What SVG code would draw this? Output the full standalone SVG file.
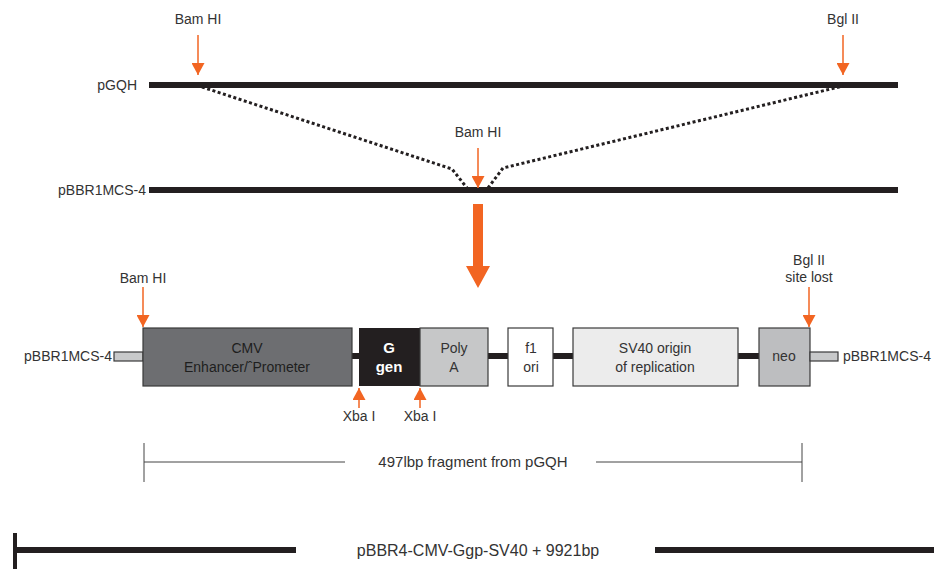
<svg xmlns="http://www.w3.org/2000/svg" width="934" height="569" viewBox="0 0 934 569">
<defs>
<style>
text{font-family:"Liberation Sans",Arial,sans-serif;fill:#333;font-size:14px}
.mid{text-anchor:middle}
.end{text-anchor:end}
.dna{stroke:#231f20;stroke-width:6;fill:none}
.dot{stroke:#231f20;stroke-width:3;stroke-dasharray:3 2.5;fill:none}
.cut{stroke:#f26522;stroke-width:1.5;fill:none}
.box{stroke:#3a3a3a;stroke-width:1.2}
.thin{stroke:#444;stroke-width:1;fill:none}
.dark{fill:#1e1e1e}
.white{fill:#fff;font-weight:bold;font-size:15px}
</style>
<marker id="ah" viewBox="0 0 12 12" refX="12" refY="6" markerWidth="12" markerHeight="13" markerUnits="userSpaceOnUse" orient="auto" preserveAspectRatio="none">
<path d="M0,0 L12,6 L0,12 Z" fill="#f26522"/>
</marker>
</defs>
<g id="connectors">
<line class="dna" x1="149" y1="85" x2="898" y2="85"/>
<line class="dna" x1="149" y1="190" x2="898" y2="190"/>
<polyline class="dot" points="202,87 452,169 467,188"/>
<polyline class="dot" points="488,188 503,168 843,86"/>
<line class="dna" x1="352" y1="356" x2="359" y2="356"/>
<line class="dna" x1="488" y1="356" x2="508" y2="356"/>
<line class="dna" x1="553" y1="356" x2="573" y2="356"/>
<line class="dna" x1="738" y1="356" x2="759" y2="356"/>
<path d="M473,204 H483 V266 H490 L478,288 L466,266 H473 Z" fill="#f26522"/>
</g>
<g id="labels-top">
<text class="mid" x="198" y="24">Bam HI</text>
<line class="cut" x1="198" y1="35" x2="198" y2="75" marker-end="url(#ah)"/>
<text class="mid" x="843" y="24">Bgl II</text>
<line class="cut" x1="843" y1="35" x2="843" y2="75" marker-end="url(#ah)"/>
<text class="end" x="137" y="90">pGQH</text>
<text class="end" x="146" y="195">pBBR1MCS-4</text>
<text class="mid" x="478" y="137">Bam HI</text>
<line class="cut" x1="478" y1="148" x2="478" y2="188" marker-end="url(#ah)"/>
</g>
<g id="stub-left">
<rect class="box" x="114" y="352" width="29" height="9" fill="#c8c9ca"/>
<text class="end" x="112" y="361">pBBR1MCS-4</text>
</g>
<g id="cmv">
<rect class="box" x="143" y="328" width="209" height="58" fill="#6d6e71"/>
<text class="mid dark" x="247" y="353">CMV</text>
<text class="mid dark" x="247" y="372">Enhancer/ˆPrometer</text>
</g>
<g id="ggen">
<rect x="359" y="328" width="61" height="58" fill="#231f20"/>
<text class="mid white" x="389" y="353">G</text>
<text class="mid white" x="389" y="372">gen</text>
</g>
<g id="polya">
<rect class="box" x="420" y="328" width="68" height="58" fill="#c6c7c8"/>
<text class="mid" x="454" y="353">Poly</text>
<text class="mid" x="454" y="372">A</text>
</g>
<g id="f1ori">
<rect class="box" x="508" y="328" width="45" height="58" fill="#ffffff"/>
<text class="mid" x="531" y="353">f1</text>
<text class="mid" x="531" y="372">ori</text>
</g>
<g id="sv40">
<rect class="box" x="573" y="328" width="165" height="58" fill="#ececec"/>
<text class="mid" x="655" y="353">SV40 origin</text>
<text class="mid" x="655" y="372">of replication</text>
</g>
<g id="neo">
<rect class="box" x="759" y="328" width="51" height="58" fill="#bdbec0"/>
<text class="mid" x="784" y="361">neo</text>
</g>
<g id="stub-right">
<rect class="box" x="810" y="352" width="28" height="9" fill="#c8c9ca"/>
<text x="843" y="361">pBBR1MCS-4</text>
</g>
<g id="sites-row">
<text class="mid" x="143" y="283">Bam HI</text>
<line class="cut" x1="143" y1="287" x2="143" y2="327" marker-end="url(#ah)"/>
<text class="mid" x="809" y="265">Bgl II</text>
<text class="mid" x="809" y="282">site lost</text>
<line class="cut" x1="809" y1="287" x2="809" y2="327" marker-end="url(#ah)"/>
<line class="cut" x1="359" y1="408" x2="359" y2="388" marker-end="url(#ah)"/>
<text class="mid" x="359" y="421">Xba I</text>
<line class="cut" x1="420" y1="408" x2="420" y2="388" marker-end="url(#ah)"/>
<text class="mid" x="420" y="421">Xba I</text>
</g>
<g id="fragment">
<line class="thin" x1="144" y1="443" x2="144" y2="482"/>
<line class="thin" x1="802" y1="443" x2="802" y2="482"/>
<line class="thin" x1="144" y1="462" x2="345" y2="462"/>
<line class="thin" x1="596" y1="462" x2="802" y2="462"/>
<text class="mid" x="473" y="467" style="font-size:15px">497lbp fragment from pGQH</text>
</g>
<g id="plasmid">
<line x1="15" y1="533" x2="15" y2="569" stroke="#231f20" stroke-width="4"/>
<line class="dna" x1="15" y1="550" x2="296" y2="550"/>
<line class="dna" x1="655" y1="550" x2="934" y2="550"/>
<text class="mid" x="478" y="556" style="font-size:16px">pBBR4-CMV-Ggp-SV40 + 9921bp</text>
</g>
</svg>
